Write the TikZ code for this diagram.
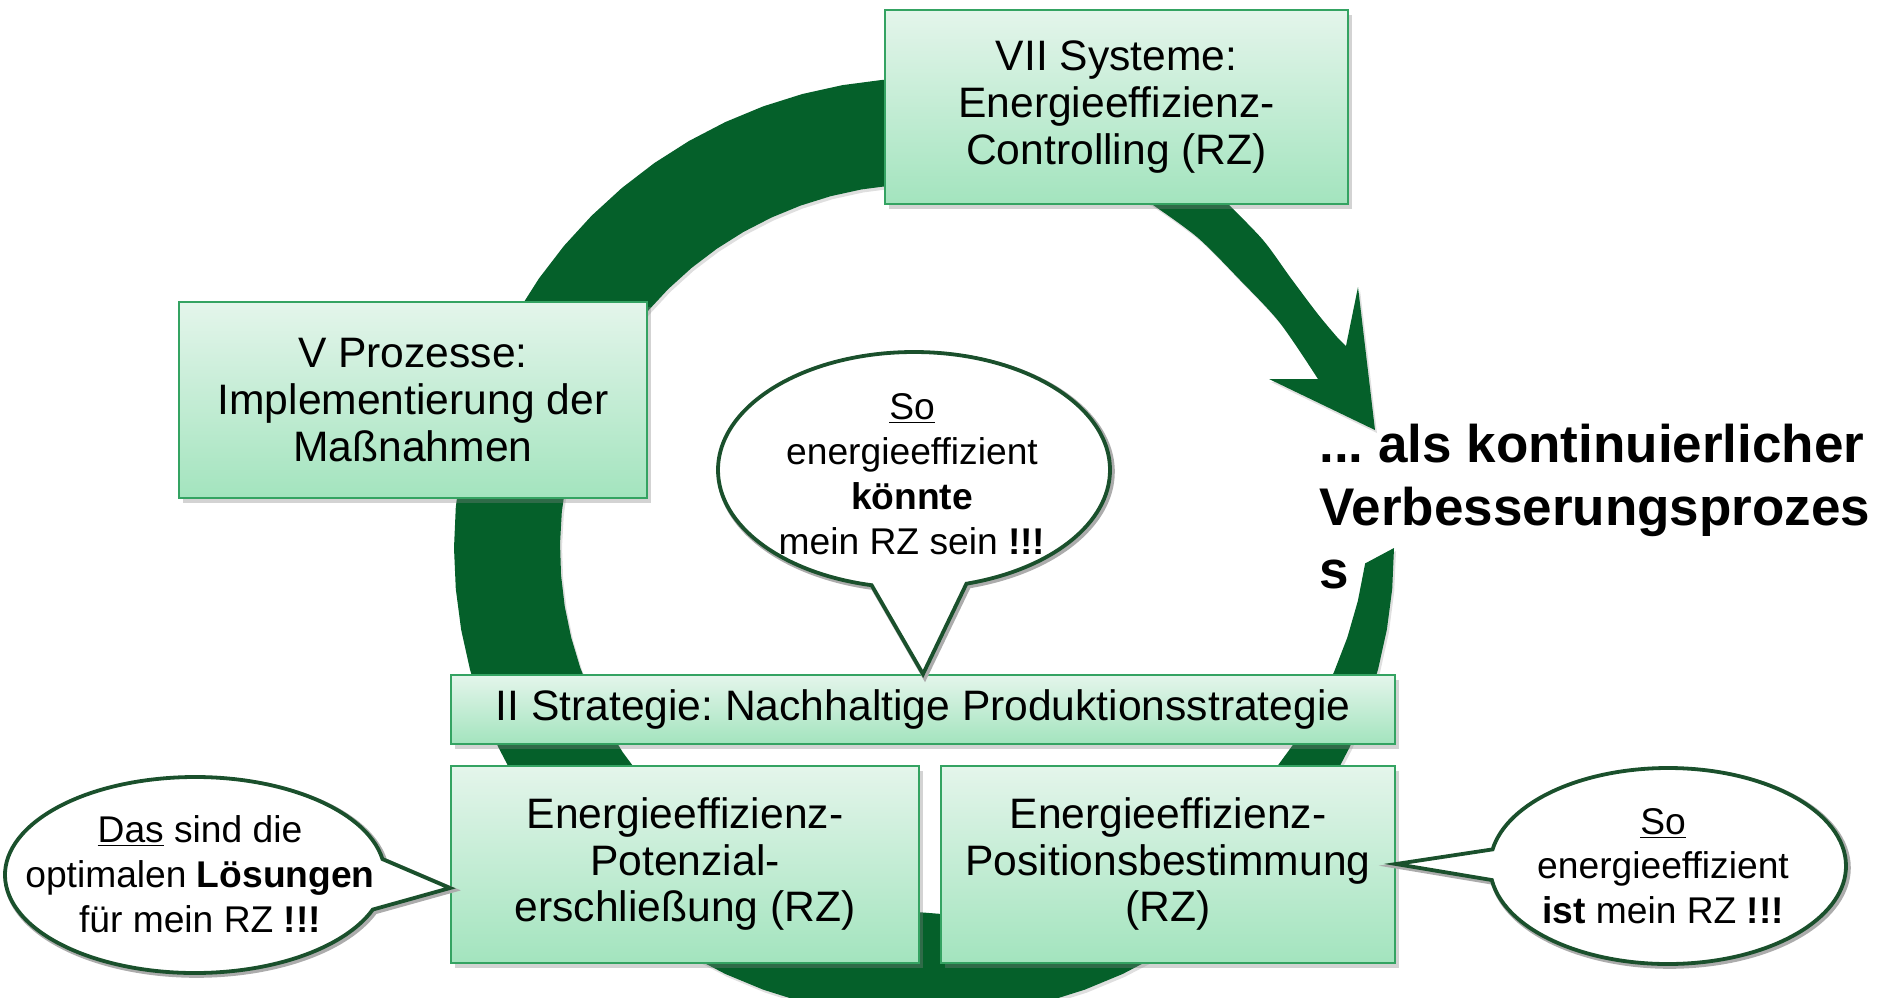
\documentclass[tikz,border=0pt]{standalone}
\usepackage{fontspec}
\setmainfont{Liberation Sans}
\usetikzlibrary{shapes.callouts,shadows}
\frenchspacing

\definecolor{ringgreen}{RGB}{5,96,42}
\definecolor{boxtop}{RGB}{228,245,235}
\definecolor{boxbottom}{RGB}{163,228,190}
\definecolor{boxline}{RGB}{52,163,98}
\definecolor{bubbleline}{RGB}{26,80,44}

\begin{document}
\begin{tikzpicture}[x=0.5pt, y=-0.5pt,
	stage/.style={draw=boxline, line width=1pt, top color=boxtop, bottom color=boxbottom, align=center, inner sep=0pt, font=\fontsize{21.3}{23.3}\selectfont, drop shadow={shadow xshift=2pt, shadow yshift=-2.5pt, opacity=0.35}},
	bubble/.style={ellipse callout, draw=bubbleline, line width=1.9pt, fill=white, inner sep=0pt, preaction={draw=gray!65, line width=3pt, transform canvas={xshift=0.9pt, yshift=-0.9pt}}},
	bubbletext/.style={align=center, inner sep=0pt, font=\fontsize{18.6}{22.4}\selectfont}]

	\useasboundingbox (0,0) rectangle (1897,997);

	% Arrow ring
	\fill[ringgreen, drop shadow={shadow xshift=1pt, shadow yshift=-1.5pt, opacity=0.25}]
		plot[domain=0:275, samples=56, variable=\t] ({924+470*cos(\t)}, {548+470*sin(\t)})
		.. controls (1100,92) and (1180,150) .. (1227,203)
		-- plot[smooth] coordinates {(1227,203) (1263,240) (1290,277) (1317,313) (1337,337) (1346,346)}
		-- (1358,287) -- (1375,430) -- (1269,379) -- (1318,379)
		-- plot[smooth] coordinates {(1318,379) (1280,323) (1240,280) (1197,237) (1150,203)}
		.. controls (1100,185) and (1010,188) .. (956,185)
		-- plot[domain=275:2, samples=56, variable=\t] ({924+(364+0.88*max(0,90-\t))*cos(\t)}, {548+(364+0.88*max(0,90-\t))*sin(\t)})
		-- cycle;

	% Stages
	\node[stage, minimum width=231.5pt, minimum height=97pt] (vii) at (1116.5,107) {VII Systeme:\\Energieeffizienz-\\Controlling (RZ)};
	\node[stage, minimum width=234pt, minimum height=98pt] (v) at (413,400) {V Prozesse:\\Implementierung der\\Maßnahmen};
	\node[stage, minimum width=472pt, minimum height=34.5pt] (ii) at (923,709.5) {II Strategie: Nachhaltige Produktionsstrategie};
	\node[stage, minimum width=234pt, minimum height=98.5pt] (pot) at (685,864) {Energieeffizienz-\\Potenzial-\\erschließung (RZ)};
	\node[stage, minimum width=227pt, minimum height=98.5pt] (pos) at (1168,864) {Energieeffizienz-\\Positionsbestimmung\\(RZ)};

	% Speech bubbles
	\node[bubble, minimum width=196pt, minimum height=118pt, callout pointer arc=28, callout absolute pointer={(ii.north)}] (kb) at (914,470) {};
	\node[bubbletext] (kt) at (912,474) {\underline{So}\\energieeffizient\\\textbf{könnte}\\mein RZ sein \textbf{!!!}};

	\node[bubble, minimum width=190pt, minimum height=98pt, callout pointer arc=30, callout absolute pointer={([yshift=-12pt]pot.west)}] (lb) at (195,875) {};
	\node[bubbletext] (lt) at (200,874) {\underline{Das} sind die\\optimalen \textbf{Lösungen}\\für mein RZ \textbf{!!!}};

	\node[bubble, minimum width=178pt, minimum height=98pt, callout pointer arc=18, callout absolute pointer={(pos.east)}] (rb) at (1668,866) {};
	\node[bubbletext] (rt) at (1663,866) {\underline{So}\\energieeffizient\\\textbf{ist} mein RZ \textbf{!!!}};

	% Caption
	\node[anchor=north west, align=left, inner sep=0pt, font=\fontsize{26.5}{31.5}\selectfont\bfseries] (kvp) at (1319,424) {... als kontinuierlicher\\Verbesserungsprozes\\s};

\end{tikzpicture}
\end{document}
